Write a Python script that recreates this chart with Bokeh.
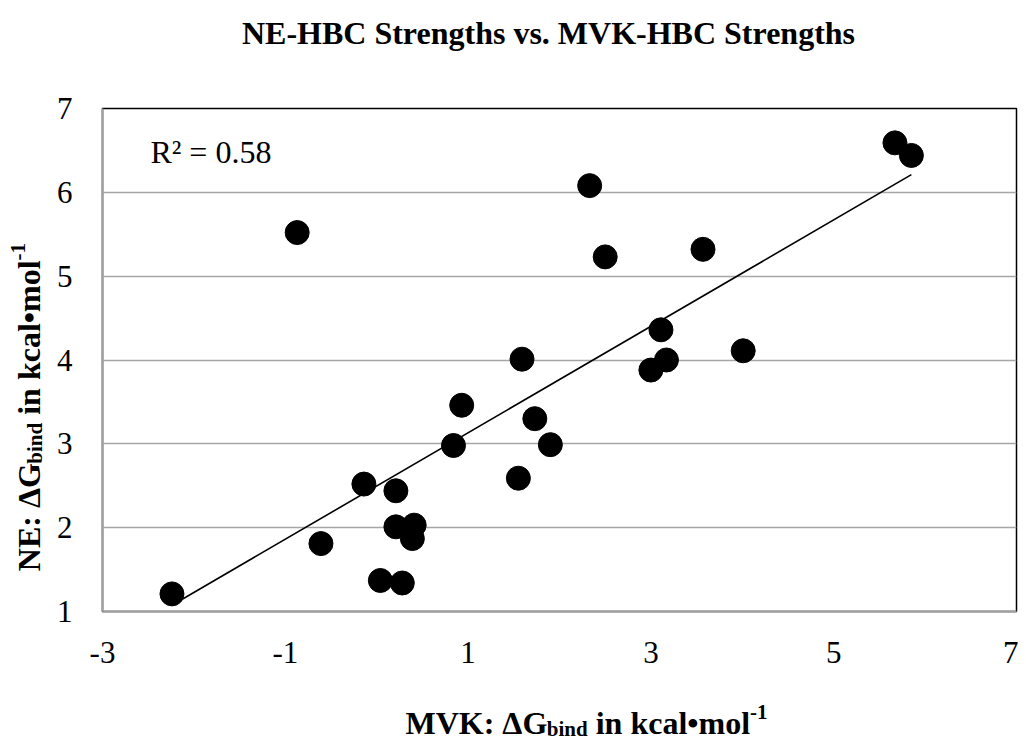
import numpy as np
from math import pi
from bokeh.plotting import figure
from bokeh.models import Label, FixedTicker, Range1d
from bokeh.layouts import column, row
from bokeh.embed import file_html
from bokeh.resources import INLINE

# ---- data ----
title_text = "NE-HBC Strengths vs. MVK-HBC Strengths"
mvk = [-2.24, -0.87, -0.61, -0.14, 0.04, 0.21, 0.21, 0.28, 0.39, 0.41,
       0.84, 0.93, 1.55, 1.59, 1.73, 1.90, 2.33, 2.50, 3.00, 3.11,
       3.17, 3.57, 4.01, 5.67, 5.85]
ne = [1.21, 5.52, 1.81, 2.52, 1.37, 2.01, 2.44, 1.34, 1.87, 2.03,
      2.98, 3.46, 2.59, 4.01, 3.30, 2.99, 6.08, 5.23, 3.88, 4.36,
      4.00, 5.32, 4.11, 6.59, 6.44]
x_ticks = [-3, -1, 1, 3, 5, 7]
x_tick_labels = ["-3", "-1", "1", "3", "5", "7"]
y_ticks = [1, 2, 3, 4, 5, 6, 7]
y_tick_labels = ["1", "2", "3", "4", "5", "6", "7"]
r2_text = "R² = 0.58"
x_title = [("MVK: ΔG", "main"), ("bind", "sub"), (" in kcal•mol", "main"), ("-1", "sup")]
y_title = [("NE: ΔG", "main"), ("bind", "sub"), (" in kcal•mol", "main"), ("-1", "sup")]

SERIF = "Liberation Serif"
TOTAL_W, TOTAL_H = 1018, 739
TOP_H = 68          # title strip
MID_H = 612         # plot row
BOT_H = TOTAL_H - TOP_H - MID_H
YL_W = 53           # y-title strip
P_W = TOTAL_W - YL_W

# frame edges in page px
FL, FT, FR, FB = 100, 108, 1016, 611


def strip(w, h):
    f = figure(width=w, height=h, x_range=Range1d(0, w), y_range=Range1d(0, h),
               x_axis_type=None, y_axis_type=None, output_backend="svg",
               toolbar_location=None)
    f.min_border_left = f.min_border_right = 0
    f.min_border_top = f.min_border_bottom = 0
    f.outline_line_color = None
    f.background_fill_color = "white"
    f.border_fill_color = "white"
    return f


def lab(fig, text, x, y, size, bold=True, angle=0.0, xo=0.0, yo=0.0, align="left"):
    fig.add_layout(Label(x=x, y=y, text=text.replace(" ", "\u00a0"), text_font=SERIF,
                         text_font_size=f"{size}px",
                         text_font_style="bold" if bold else "normal",
                         text_color="black", text_align=align,
                         text_baseline="alphabetic", angle=angle,
                         x_offset=xo, y_offset=yo))


WID = {' ': 250, ':': 333, 'M': 944, 'V': 722, 'K': 778, 'N': 722, 'E': 667,
       'Δ': 612, 'G': 778, 'b': 556, 'i': 278, 'n': 556, 'd': 556, 'k': 556,
       'c': 444, 'a': 500, 'l': 278, '•': 350, 'm': 833, 'o': 500, '-': 333,
       '1': 500}


def tw(s, size):
    return sum(WID.get(c, 500) for c in s) / 1000.0 * size


F, S = 32, 21
SIZE = {"main": F, "sub": S, "sup": S}
SHIFT = {"main": 0, "sub": -6, "sup": 11}
BL = 11   # empirical baseline correction of Label text (px)

# ---- main plot ----
p = figure(width=P_W, height=MID_H, output_backend="svg", toolbar_location=None,
           x_range=Range1d(-3, 7), y_range=Range1d(1, 7))
p.min_border_left = FL - YL_W
p.min_border_right = TOTAL_W - FR
p.min_border_top = FT - TOP_H
p.min_border_bottom = TOP_H + MID_H - FB
p.background_fill_color = "white"
p.border_fill_color = "white"
p.outline_line_color = "black"
p.outline_line_width = 1.5

for ax in (p.xaxis[0], p.yaxis[0]):
    ax.axis_line_color = "#a0a0a0"
    ax.axis_line_width = 2
    ax.major_tick_line_color = None
    ax.minor_tick_line_color = None
    ax.major_tick_out = 0
    ax.major_tick_in = 0
    ax.major_label_text_font = SERIF
    ax.major_label_text_font_size = "31px"
    ax.major_label_text_color = "black"
p.xaxis.ticker = FixedTicker(ticks=x_ticks)
p.yaxis.ticker = FixedTicker(ticks=y_ticks)
p.xaxis.major_label_overrides = {t: s for t, s in zip(x_ticks, x_tick_labels)}
p.yaxis.major_label_overrides = {t: s for t, s in zip(y_ticks, y_tick_labels)}
p.xaxis.major_label_standoff = 30
p.yaxis.major_label_standoff = 30
p.xgrid.grid_line_color = None
p.ygrid.grid_line_color = "#a6a6a6"
p.ygrid.grid_line_width = 1.6

p.scatter(mvk, ne, size=24, color="black")

# linear trendline fitted to the data
slope, icpt = np.polyfit(mvk, ne, 1)
xs = np.array([min(mvk), max(mvk)])
p.line(xs, slope * xs + icpt, line_color="black", line_width=1.6)

# R^2 annotation (page px 148, baseline 162)
lab(p, r2_text, -3 + (148 - FL) * 10.0 / (FR - FL),
    1 + (FB - (162 - BL)) * 6.0 / (FB - FT), 32, bold=False)

# ---- title strip ----
top = strip(TOTAL_W, TOP_H)
lab(top, title_text, 548, TOP_H - (43 - BL), 32, align="center")

# ---- y title strip (rotated) ----
left = strip(YL_W, MID_H)
off = 0.0
for t, kind in y_title:
    lab(left, t, 40 - 12, 49, SIZE[kind], angle=pi / 2,
        xo=-SHIFT[kind], yo=off)
    off += tw(t, SIZE[kind])

# ---- x title strip ----
bot = strip(TOTAL_W, BOT_H)
off = 0.0
for t, kind in x_title:
    lab(bot, t, 405, TOTAL_H - (733 - BL), SIZE[kind], xo=off, yo=SHIFT[kind])
    off += tw(t, SIZE[kind])

layout = column(top, row(left, p), bot)
open("out.html", "w").write(file_html(layout, INLINE))
